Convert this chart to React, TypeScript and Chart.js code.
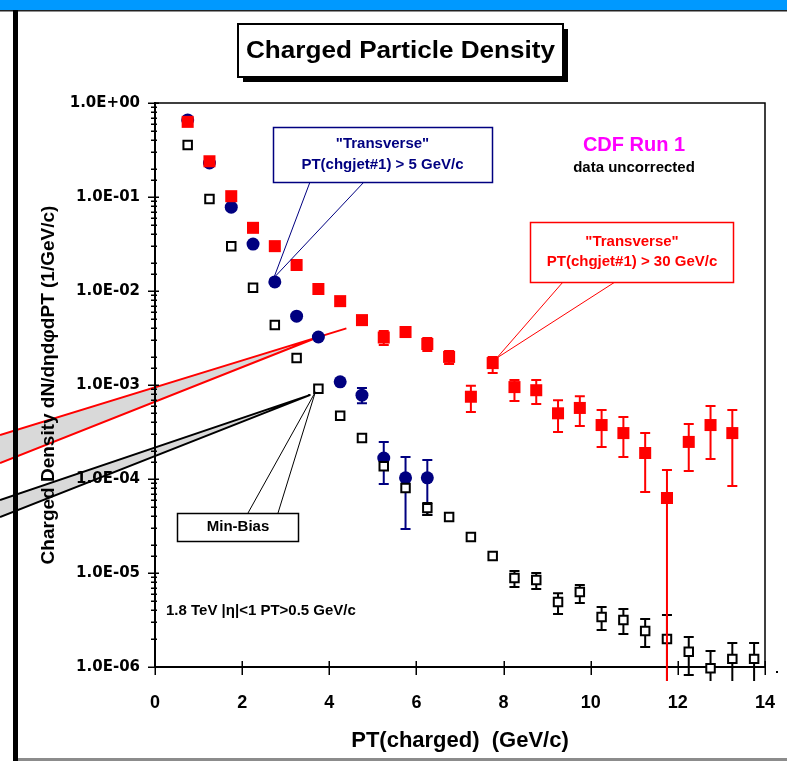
import React, { useEffect, useRef } from "react";
import { Chart, registerables } from "chart.js";

Chart.register(...registerables);

const W = 787;
const H = 761;
const SANS = '"Liberation Sans", Arial, Helvetica, sans-serif';

// PT bin centres (GeV/c)
const ptBins = [0.75, 1.25, 1.75, 2.25, 2.75, 3.25, 3.75, 4.25, 4.75, 5.25, 5.75, 6.25, 6.75, 7.25, 7.75, 8.25, 8.75, 9.25, 9.75, 10.25, 10.75, 11.25, 11.75, 12.25, 12.75, 13.25, 13.75];

// "Transverse" PT(chgjet#1) > 30 GeV/c (red squares)
const jet30Density = [0.63, 0.24, 0.102, 0.047, 0.03, 0.0189, 0.0105, 0.0078, 0.0049, 0.0032, 0.00366, 0.00273, 0.00199, 0.00075, 0.00171, 0.00095, 0.00088, 0.0005, 0.00057, 0.000375, 0.000308, 0.000189, 0.0000628, 0.000248, 0.000375, 0.000308];
const jet30High = [0.65, 0.247, 0.105, 0.0485, 0.031, 0.0196, 0.0109, 0.0082, 0.0054, 0.00375, 0.00414, 0.00316, 0.0023, 0.00098, 0.00199, 0.00113, 0.00113, 0.00069, 0.00076, 0.000542, 0.000457, 0.000308, 0.000125, 0.000385, 0.000598, 0.000542];
const jet30Low = [0.61, 0.233, 0.099, 0.0455, 0.029, 0.0182, 0.0101, 0.0074, 0.0044, 0.00267, 0.00316, 0.0023, 0.00167, 0.000516, 0.00134, 0.000676, 0.000628, 0.000316, 0.000366, 0.000219, 0.000171, 0.0000727, 0.0000001, 0.000122, 0.000163, 0.0000843];

// "Transverse" PT(chgjet#1) > 5 GeV/c (blue circles)
const jet5Density = [0.66, 0.23, 0.078, 0.0316, 0.0125, 0.0054, 0.00324, 0.00108, 0.00078, 0.000167, 0.000103, 0.000103];
const jet5High = [0.68, 0.237, 0.08, 0.0325, 0.0129, 0.0056, 0.0034, 0.00125, 0.00093, 0.000248, 0.000171, 0.000159];
const jet5Low = [0.64, 0.223, 0.076, 0.0307, 0.0121, 0.0052, 0.0031, 0.00095, 0.00064, 0.0000885, 0.0000294, 0.0000414];

// Min-Bias (open black squares)
const minBiasDensity = [0.357, 0.095, 0.03, 0.0108, 0.00435, 0.00194, 0.00091, 0.00047, 0.000273, 0.000137, 0.00008, 0.000049, 0.0000394, 0.0000242, 0.0000152, 0.00000885, 0.00000843, 0.00000491, 0.00000628, 0.0000034, 0.00000316, 0.00000242, 0.00000199, 0.00000145, 0.00000097, 0.00000122, 0.00000122];
const minBiasHigh = [0.368, 0.098, 0.031, 0.0111, 0.00448, 0.002, 0.00094, 0.000484, 0.000281, 0.000141, 0.000086, 0.0000556, 0.000043, 0.0000273, 0.0000167, 0.0000105, 0.00001, 0.0000061, 0.00000745, 0.00000435, 0.00000414, 0.00000324, 0.00000357, 0.00000208, 0.00000148, 0.0000018, 0.0000018];
const minBiasLow = [0.346, 0.092, 0.029, 0.0105, 0.00422, 0.00188, 0.00088, 0.000456, 0.000265, 0.000133, 0.000074, 0.0000414, 0.000036, 0.0000209, 0.0000128, 0.0000071, 0.00000676, 0.00000366, 0.0000048, 0.00000248, 0.00000225, 0.00000163, 0.0000001, 0.00000082, 0.0000001, 0.0000001, 0.0000001];

const xTickLabels = ["0", "2", "4", "6", "8", "10", "12", "14"];
const yTickLabels = ["1.0E-06", "1.0E-05", "1.0E-04", "1.0E-03", "1.0E-02", "1.0E-01", "1.0E+00"];

const RED = "#ff0000";
const NAVY = "#000080";

// error bar sets in dataset order: [red, black, blue]
const errorSets = [
  { hi: jet30High, lo: jet30Low, color: RED, cap: 5 },
  { hi: minBiasHigh, lo: minBiasLow, color: "#000000", cap: 5 },
  { hi: jet5High, lo: jet5Low, color: NAVY, cap: 5 },
];

function drawText(ctx: CanvasRenderingContext2D, s: string, x: number, y: number, size: number, color: string, align: CanvasTextAlign = "center", targetW = 0) {
  ctx.save();
  ctx.font = `bold ${size}px ${SANS}`;
  ctx.fillStyle = color;
  ctx.textAlign = align;
  ctx.textBaseline = "middle";
  ctx.translate(x, y);
  if (targetW) {
    const m = ctx.measureText(s).width;
    ctx.scale(targetW / m, 1);
  }
  ctx.fillText(s, 0, 0);
  ctx.restore();
}

function isDecade(v: number) {
  const e = Math.log10(v);
  return Math.abs(e - Math.round(e)) < 1e-6;
}

const decorPlugin = {
  id: "decor",
  beforeDraw(chart: any) {
    const ctx: CanvasRenderingContext2D = chart.ctx;
    const xs = chart.scales.x;
    const ys = chart.scales.y;
    ctx.save();
    ctx.fillStyle = "#ffffff";
    ctx.fillRect(0, 0, W, H);
    ctx.fillStyle = "#0099ff";
    ctx.fillRect(0, 0, W, 10);
    ctx.fillStyle = "#222222";
    ctx.fillRect(0, 10, W, 1.5);

    // red wedge pointing to the >5 GeV/c point at 3.75
    const rx = xs.getPixelForValue(ptBins[6]);
    const ry = ys.getPixelForValue(jet5Density[6]);
    ctx.fillStyle = "#d9d9d9";
    ctx.beginPath();
    ctx.moveTo(0, 435);
    ctx.lineTo(rx, ry);
    ctx.lineTo(0, 463);
    ctx.closePath();
    ctx.fill();
    ctx.strokeStyle = RED;
    ctx.lineWidth = 2;
    const ext = (rx + 28) / rx;
    ctx.beginPath();
    ctx.moveTo(0, 435);
    ctx.lineTo(rx * ext, 435 + (ry - 435) * ext);
    ctx.moveTo(0, 463);
    ctx.lineTo(rx, ry);
    ctx.stroke();

    // black wedge pointing to the Min-Bias point at 3.75
    const kx = xs.getPixelForValue(ptBins[6]) - 8;
    const ky = ys.getPixelForValue(minBiasDensity[6]) + 6;
    ctx.fillStyle = "#d9d9d9";
    ctx.beginPath();
    ctx.moveTo(0, 500);
    ctx.lineTo(kx, ky);
    ctx.lineTo(0, 517);
    ctx.closePath();
    ctx.fill();
    ctx.strokeStyle = "#000";
    ctx.beginPath();
    ctx.moveTo(0, 500);
    ctx.lineTo(kx, ky);
    ctx.moveTo(0, 517);
    ctx.lineTo(kx, ky);
    ctx.stroke();

    // thick left bar and bottom line of the slide
    ctx.fillStyle = "#000";
    ctx.fillRect(13, 10, 5, H - 10);
    ctx.fillStyle = "#8c8c8c";
    ctx.fillRect(18, 758, W - 18, 3);
    ctx.restore();
  },
  beforeDatasetDraw(chart: any, args: any) {
    const eb = errorSets[args.index];
    if (!eb) return;
    const ctx: CanvasRenderingContext2D = chart.ctx;
    const xs = chart.scales.x;
    const ys = chart.scales.y;
    ctx.save();
    ctx.beginPath();
    ctx.rect(0, 0, W, 681);
    ctx.clip();
    ctx.strokeStyle = eb.color;
    ctx.lineWidth = 2;
    eb.hi.forEach((h: number, i: number) => {
      const px = xs.getPixelForValue(ptBins[i]);
      const p1 = ys.getPixelForValue(h);
      const p2 = ys.getPixelForValue(eb.lo[i]);
      if (Math.abs(p2 - p1) < 12) return;
      ctx.beginPath();
      ctx.moveTo(px, p1);
      ctx.lineTo(px, p2);
      ctx.moveTo(px - eb.cap, p1);
      ctx.lineTo(px + eb.cap, p1);
      ctx.moveTo(px - eb.cap, p2);
      ctx.lineTo(px + eb.cap, p2);
      ctx.stroke();
    });
    ctx.restore();
  },
  afterDraw(chart: any) {
    const ctx: CanvasRenderingContext2D = chart.ctx;
    const xs = chart.scales.x;
    const ys = chart.scales.y;
    const a = chart.chartArea;
    ctx.save();
    // frame top and right
    ctx.strokeStyle = "#000";
    ctx.lineWidth = 1.5;
    ctx.beginPath();
    ctx.moveTo(a.left, a.top);
    ctx.lineTo(a.right, a.top);
    ctx.lineTo(a.right, a.bottom);
    ctx.stroke();
    // tick marks
    ctx.beginPath();
    ys.ticks.forEach((t: any) => {
      const p = Math.round(ys.getPixelForValue(t.value)) + 0.25;
      const major = isDecade(t.value);
      ctx.moveTo(a.left - (major ? 7 : 4), p);
      ctx.lineTo(a.left + (major ? 4 : 2), p);
    });
    xs.ticks.forEach((t: any) => {
      const p = Math.round(xs.getPixelForValue(t.value)) + 0.25;
      ctx.moveTo(p, a.bottom - 6);
      ctx.lineTo(p, a.bottom + 8);
    });
    ctx.stroke();
    ctx.fillStyle = "#000";
    ctx.fillRect(a.right + 11, a.bottom + 4, 2, 2);

    // title box
    ctx.fillStyle = "#000";
    ctx.fillRect(243, 29, 325, 53);
    ctx.fillStyle = "#fff";
    ctx.fillRect(238, 24, 325, 53);
    ctx.lineWidth = 2;
    ctx.strokeRect(238, 24, 325, 53);
    drawText(ctx, "Charged Particle Density", 400.5, 51, 24, "#000", "center", 309);

    // blue callout
    const bx = xs.getPixelForValue(ptBins[4]) - 1;
    const by = ys.getPixelForValue(jet5Density[4]) - 4;
    ctx.strokeStyle = NAVY;
    ctx.lineWidth = 1;
    ctx.beginPath();
    ctx.moveTo(310, 182);
    ctx.lineTo(bx, by);
    ctx.lineTo(364, 182);
    ctx.stroke();
    ctx.fillStyle = "#fff";
    ctx.fillRect(273, 127, 219, 55);
    ctx.lineWidth = 1.5;
    ctx.strokeRect(273.5, 127.5, 219, 55);
    drawText(ctx, '"Transverse"', 382.5, 144, 15, NAVY);
    drawText(ctx, "PT(chgjet#1) > 5 GeV/c", 382.5, 165, 15, NAVY);

    // red callout
    const qx = xs.getPixelForValue(ptBins[14]) + 4;
    const qy = ys.getPixelForValue(jet30Density[14]) - 5;
    ctx.strokeStyle = RED;
    ctx.lineWidth = 1;
    ctx.beginPath();
    ctx.moveTo(563, 282);
    ctx.lineTo(qx, qy);
    ctx.lineTo(615, 282);
    ctx.stroke();
    ctx.fillStyle = "#fff";
    ctx.fillRect(530, 222, 203, 60);
    ctx.lineWidth = 1.5;
    ctx.strokeRect(530.5, 222.5, 203, 60);
    drawText(ctx, '"Transverse"', 632, 242, 15, RED);
    drawText(ctx, "PT(chgjet#1) > 30 GeV/c", 632, 262, 15, RED);

    // Min-Bias callout
    const mx = xs.getPixelForValue(ptBins[6]) - 3;
    const my = ys.getPixelForValue(minBiasDensity[6]) + 3;
    ctx.strokeStyle = "#000";
    ctx.lineWidth = 1;
    ctx.beginPath();
    ctx.moveTo(248, 513);
    ctx.lineTo(mx, my);
    ctx.lineTo(278, 513);
    ctx.stroke();
    ctx.fillStyle = "#fff";
    ctx.fillRect(177, 513, 121, 28);
    ctx.lineWidth = 1.5;
    ctx.strokeRect(177.5, 513.5, 121, 28);
    drawText(ctx, "Min-Bias", 238, 527, 15, "#000");

    drawText(ctx, "CDF Run 1", 634, 145, 20, "#ff00ff");
    drawText(ctx, "data uncorrected", 634, 168, 15, "#000");
    drawText(ctx, "1.8 TeV |\u03b7|<1 PT>0.5 GeV/c", 166, 611, 15, "#000", "left");
    ctx.restore();
  },
};

export default function App() {
  const ref = useRef<HTMLCanvasElement>(null);
  useEffect(() => {
    document.body.style.margin = "0";
    const toPts = (vals: number[]) => vals.map((y, i) => ({ x: ptBins[i], y }));
    const chart = new Chart(ref.current as HTMLCanvasElement, {
      type: "scatter",
      data: {
        datasets: [
          {
            label: '"Transverse" PT(chgjet#1) > 30 GeV/c',
            data: toPts(jet30Density),
            pointStyle: "rect",
            pointRadius: 8.5,
            backgroundColor: RED,
            borderWidth: 0,
            showLine: false,
            clip: false as any,
          },
          {
            label: "Min-Bias",
            data: toPts(minBiasDensity),
            pointStyle: "rect",
            pointRadius: 6,
            backgroundColor: "#ffffff",
            borderColor: "#000000",
            borderWidth: 2,
            showLine: false,
            clip: false as any,
          },
          {
            label: '"Transverse" PT(chgjet#1) > 5 GeV/c',
            data: toPts(jet5Density),
            pointStyle: "circle",
            pointRadius: 6.5,
            backgroundColor: NAVY,
            borderWidth: 0,
            showLine: false,
            clip: false as any,
          },
        ],
      },
      options: {
        responsive: false,
        animation: false,
        devicePixelRatio: 1,
        events: [],
        layout: { padding: { left: 0, top: 103, right: 22, bottom: 0 } },
        plugins: {
          legend: { display: false },
          tooltip: { enabled: false },
          title: { display: false },
        },
        scales: {
          x: {
            type: "linear",
            position: "bottom",
            min: 0,
            max: 14,
            afterFit: (s: any) => {
              s.height = 94;
            },
            grid: { display: false, drawTicks: true, tickLength: 14 },
            border: { display: true, color: "#000", width: 2 },
            ticks: {
              stepSize: 2,
              autoSkip: false,
              maxRotation: 0,
              padding: 11,
              color: "#000",
              font: { family: SANS, size: 18, weight: "bold" },
              callback: (v: any) => xTickLabels[Math.round(Number(v) / 2)] ?? "",
            },
            title: {
              display: true,
              text: "PT(charged)  (GeV/c)",
              color: "#000",
              font: { family: SANS, size: 22, weight: "bold" },
              padding: { top: 0, bottom: 7 },
            },
          },
          y: {
            type: "logarithmic",
            position: "left",
            min: 1e-6,
            max: 1,
            afterFit: (s: any) => {
              s.width = 155;
            },
            grid: { display: false, drawTicks: true, tickLength: 8 },
            border: { display: true, color: "#000", width: 2 },
            ticks: {
              autoSkip: false,
              padding: 7,
              color: "#000",
              font: { family: '"DejaVu Sans", sans-serif', size: 15, weight: "bold" },
              callback: (v: any) => {
                const n = Number(v);
                if (!isDecade(n)) return "";
                return yTickLabels[Math.round(Math.log10(n)) + 6] ?? "";
              },
            },
            title: {
              display: true,
              text: "Charged Density dN/d\u03b7d\u03c6dPT (1/GeV/c)",
              color: "#000",
              font: { family: SANS, size: 19, weight: "bold" },
              padding: { top: 37, bottom: 0 },
            },
          },
        },
      } as any,
      plugins: [decorPlugin],
    });
    return () => chart.destroy();
  }, []);
  return (
    <div style={{ position: "absolute", left: 0, top: 0, width: W, height: H, background: "#fff" }}>
      <canvas ref={ref} width={W} height={H} style={{ display: "block", width: W, height: H }} />
    </div>
  );
}
